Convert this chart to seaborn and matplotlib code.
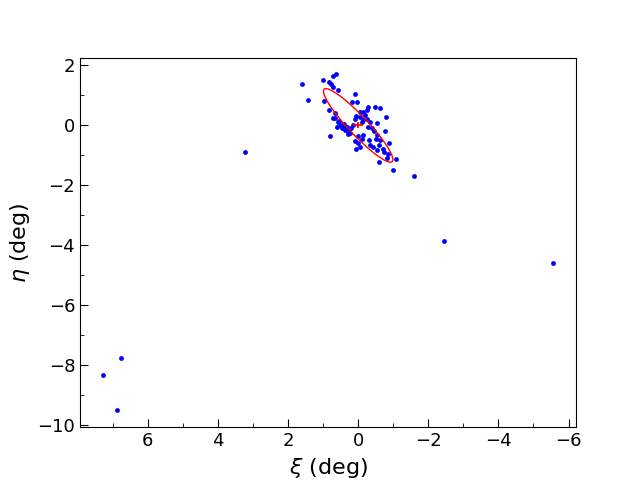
import matplotlib
matplotlib.use("Agg")
import matplotlib.pyplot as plt
from matplotlib.patches import Ellipse
from matplotlib.ticker import AutoMinorLocator
import seaborn as sns
import pandas as pd

# star positions (tangent-plane coordinates, deg)
xi = [7.29, 6.77, 6.89, 3.23, -2.46, -5.57, -1.6,
      1.6, 1.43, 1.0, 0.83, 0.77, 0.71, 0.71, 0.63, 0.57, 0.97, 0.83, 0.66,
      0.71, 0.8, 0.09, 0.17, 0.03, -0.29, -0.26, -0.14, -0.49, -0.63, -0.8,
      -0.06, -0.14, -0.11, 0.57, 0.51, 0.6, 0.46, 0.37, 0.29, 0.23, 0.4, 0.31,
      -0.54, -0.29, -0.4, -0.77, -0.14, 0.0, -0.54, -0.63, -0.89, 0.09, 0.0,
      -0.06, 0.06, -0.34, -0.43, -0.54, -0.6, -0.86, -0.83, -0.6, -1.09, -1.0,
      0.45, 0.35, 0.25, 0.2, 0.15, 0.1, 0.05, -0.05, -0.2, -0.25, -0.35, -0.45,
      -0.5, -0.7, -0.75, 0.55, 0.65, 0.3, -0.1, -0.3]
eta = [-8.33, -7.77, -9.5, -0.9, -3.87, -4.57, -1.7,
       1.37, 0.83, 1.5, 1.43, 1.37, 1.27, 1.63, 1.7, 1.17, 0.8, 0.5, 0.4,
       0.23, -0.37, 1.03, 0.77, 0.77, 0.6, 0.5, 0.43, 0.6, 0.57, 0.27,
       0.27, 0.17, 0.1, 0.1, 0.0, -0.07, -0.1, -0.17, -0.23, -0.27, 0.03, -0.07,
       0.07, -0.07, -0.1, -0.2, -0.33, -0.37, -0.33, -0.5, -0.6, -0.53, -0.6,
       -0.73, -0.8, -0.67, -0.73, -0.83, -0.67, -0.97, -1.1, -1.23, -1.13, -1.5,
       0.0, -0.05, -0.15, -0.1, 0.0, 0.2, 0.3, 0.45, 0.35, 0.2, 0.1, -0.2,
       -0.45, -0.8, -0.9, 0.15, 0.25, -0.3, -0.45, -0.5]

# fitted ellipse (centre, full axes in deg, angle in deg)
ell_center = (0.0, 0.0)
ell_major = 3.1
ell_minor = 0.58
ell_angle = 51.5
cen_err = (0.15, 0.1)

df = pd.DataFrame({"xi": xi, "eta": eta})

fig, ax = plt.subplots(figsize=(6.4, 4.8), dpi=100)
sns.scatterplot(data=df, x="xi", y="eta", color="blue", s=12, linewidth=0, ax=ax)

ax.add_patch(Ellipse(ell_center, ell_major, ell_minor, angle=ell_angle,
                     fill=False, edgecolor="red", linewidth=1, zorder=3))
ax.errorbar([ell_center[0]], [ell_center[1]], xerr=[cen_err[0]], yerr=[cen_err[1]],
            color="red", linewidth=1.3, capsize=0, zorder=4)

ax.invert_xaxis()
ax.set_xlabel(r"$\xi$ (deg)", fontsize=16)
ax.set_ylabel(r"$\eta$ (deg)", fontsize=16)
ax.xaxis.set_minor_locator(AutoMinorLocator(2))
ax.yaxis.set_minor_locator(AutoMinorLocator(2))
ax.tick_params(which="both", direction="in", labelsize=13)
ax.tick_params(which="major", length=6)
ax.tick_params(which="minor", length=3)

fig.savefig("out.png", dpi=100)
